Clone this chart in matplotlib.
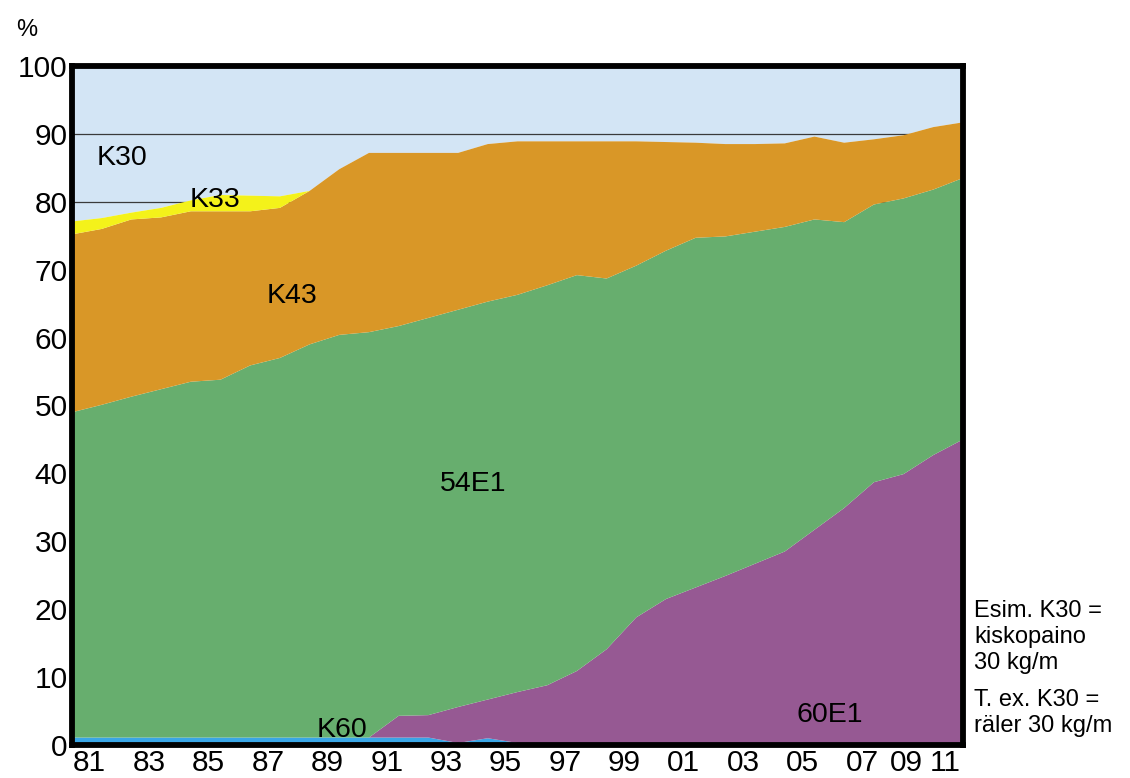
import numpy as np
import matplotlib
matplotlib.use('Agg')
import matplotlib.pyplot as plt

plt.rcParams['font.family'] = ['Liberation Sans', 'DejaVu Sans']

years = list(range(1981, 2012))

# shares of track length by rail type, %
k60  = [1.1]*13 + [0.3, 1.0, 0.3, 0.1] + [0.0]*14
e60  = [0.0]*11 + [3.2, 3.3, 5.3, 5.7, 7.5, 8.7, 10.9, 14.1, 18.8, 21.5, 23.2, 24.9,
                   26.7, 28.5, 31.7, 34.9, 38.7, 39.9, 42.7, 45.0]
e54  = [47.9, 49.0, 50.2, 51.3, 52.4, 52.7, 54.8, 55.9, 57.9, 59.3, 59.7, 57.4, 58.5,
        58.5, 58.6, 58.5, 58.9, 58.3, 54.6, 51.8, 51.3, 51.5, 50.0, 48.9, 47.8, 45.7,
        42.1, 40.9, 40.6, 39.1, 38.5]
k43  = [26.2, 25.9, 26.1, 25.3, 25.1, 24.8, 22.7, 22.1, 22.6, 24.4, 26.4, 25.5, 24.3,
        23.1, 23.2, 22.6, 21.2, 19.7, 20.2, 18.3, 16.0, 14.0, 13.6, 12.9, 12.3, 12.2,
        11.7, 9.6, 9.3, 9.2, 8.2]
k33  = [1.9, 1.6, 1.0, 1.4, 1.6, 2.4, 2.3, 1.7] + [0.0]*23
k30  = [22.9, 22.4, 21.6, 20.9, 19.8, 19.0, 19.1, 19.2, 18.4, 15.2, 12.8, 12.8, 12.8,
        12.8, 11.5, 11.1, 11.1, 11.1, 11.1, 11.1, 11.2, 11.3, 11.5, 11.5, 11.4, 10.4,
        11.3, 10.8, 10.2, 9.0, 8.3]

names  = ['K60', '60E1', '54E1', 'K43', 'K33', 'K30']
colors = ['#3aa6e6', '#965993', '#67ae6e', '#d99727', '#f4f21a', '#d3e5f5']

fig = plt.figure(figsize=(11.3, 7.78), dpi=100)
ax = fig.add_axes([0.0637, 0.0424, 0.7885, 0.8728])

polys = ax.stackplot(years, k60, e60, e54, k43, k33, k30, colors=colors, linewidth=0)
polys[-1].set_zorder(0.2)   # K30 behind the grid lines
for y in (80, 90):
    ax.axhline(y, color='#3a3a3a', lw=0.9, zorder=0.5)

ax.set_xlim(1981, 2011)
ax.set_ylim(0, 100)
for s in ax.spines.values():
    s.set_linewidth(4.2)
    s.set_zorder(5)

ax.set_yticks(range(0, 101, 10))
ax.set_yticklabels([str(v) for v in range(0, 101, 10)])
xt = [y + 0.6 for y in years[:-4:2]] + [2009.1, 2010.4]
ax.set_xticks(xt)
ax.set_xticklabels(['%02d' % (y % 100) for y in years[::2]])
ax.tick_params(length=0, labelsize=21.5, pad=3)

lab = dict(fontsize=20.5, ha='center', va='center', zorder=6)
ax.text(1982.7, 86.4, 'K30', **lab)
ax.text(1985.8, 80.2, 'K33', **lab)
ax.text(1988.4, 66.1, 'K43', **lab)
ax.text(1994.5, 38.5, '54E1', **lab)
ax.text(1990.1, 2.2, 'K60', **lab)
ax.text(2006.5, 4.4, '60E1', **lab)

fig.text(0.024, 0.962, '%', fontsize=17, ha='center', va='center')
side = dict(fontsize=17, ha='left', va='center', linespacing=1.25)
fig.text(0.862, 0.181, 'Esim. K30 =\nkiskopaino\n30 kg/m', **side)
fig.text(0.862, 0.0835, 'T. ex. K30 =\nräler 30 kg/m', **side)

fig.savefig('out.png', dpi=100)
